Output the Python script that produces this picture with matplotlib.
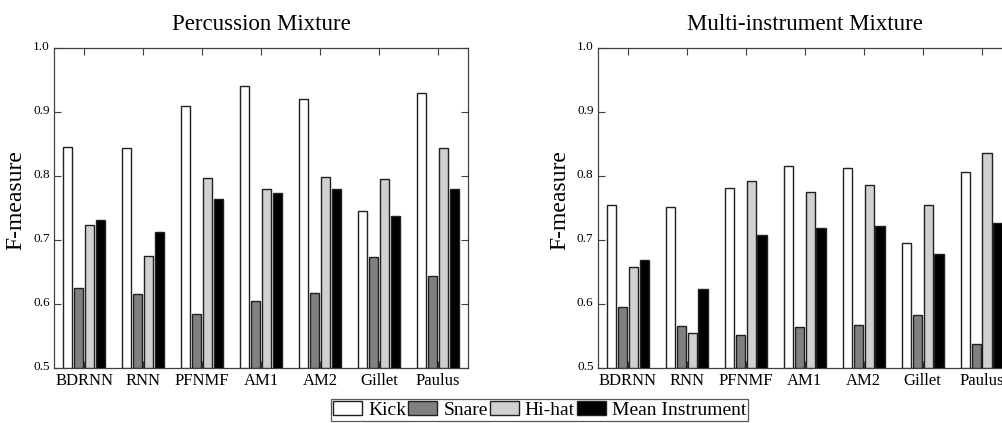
import numpy as np
import matplotlib
matplotlib.use('Agg')
import matplotlib.pyplot as plt
import matplotlib.transforms as mtransforms

methods = ['BDRNN', 'RNN', 'PFNMF', 'AM1', 'AM2', 'Gillet', 'Paulus']
series = ['Kick', 'Snare', 'Hi-hat', 'Mean Instrument']

# Percussion mixture
perc_kick = [0.845, 0.843, 0.910, 0.940, 0.920, 0.745, 0.930]
perc_snare = [0.625, 0.616, 0.585, 0.604, 0.617, 0.673, 0.644]
perc_hihat = [0.724, 0.675, 0.797, 0.779, 0.799, 0.795, 0.843]
perc_mean = [0.732, 0.712, 0.764, 0.774, 0.779, 0.738, 0.779]

# Multi-instrument mixture
multi_kick = [0.755, 0.751, 0.781, 0.816, 0.812, 0.695, 0.807]
multi_snare = [0.595, 0.566, 0.552, 0.564, 0.567, 0.583, 0.538]
multi_hihat = [0.658, 0.555, 0.792, 0.775, 0.786, 0.755, 0.836]
multi_mean = [0.669, 0.624, 0.708, 0.719, 0.722, 0.678, 0.727]

colors = ['white', '#808080', '#d0d0d0', 'black']

plt.rcParams['font.family'] = ['Liberation Serif', 'DejaVu Serif']

fig = plt.figure(figsize=(10.03, 4.23), dpi=100)
ax1 = fig.add_axes([0.0538, 0.130, 0.4128, 0.7565])
ax2 = fig.add_axes([0.596, 0.130, 0.4128, 0.7565])


def draw(ax, data, title):
    x = np.arange(1, len(methods) + 1)
    w = 0.16
    step = 0.185
    bars = []
    for i, vals in enumerate(data):
        b = ax.bar(x + (i - 1.5) * step, np.array(vals) - 0.5, w, bottom=0.5,
                   color=colors[i], edgecolor='#202020', linewidth=1.0,
                   zorder=3, label=series[i])
        bars.append(b)
    ax.set_xlim(0.49, 7.51)
    ax.set_ylim(0.5, 1.0)
    ax.set_xticks(x)
    ax.set_xticklabels(methods, fontsize=12)
    ax.set_yticks([0.5, 0.6, 0.7, 0.8, 0.9, 1.0])
    ax.set_yticklabels(['0.5', '0.6', '0.7', '0.8', '0.9', '1.0'], fontsize=9.5)
    ax.tick_params(direction='in', top=True, right=True, length=5,
                   width=0.8, color='#404040', pad=3)
    ax.tick_params(axis='x', pad=3.5)
    # y tick labels sit a little above their ticks
    off = mtransforms.ScaledTranslation(0, 3 / 100, fig.dpi_scale_trans)
    for lab in ax.get_yticklabels():
        lab.set_transform(lab.get_transform() + off)
    for s in ax.spines.values():
        s.set_color('#404040')
        s.set_linewidth(0.9)
    ax.set_ylabel('F-measure', fontsize=17)
    ax.yaxis.set_label_coords(-0.066, 0.525)
    ax.set_title(title, fontsize=16.5, pad=13)
    return bars


bars = draw(ax1, [perc_kick, perc_snare, perc_hihat, perc_mean], 'Percussion Mixture')
draw(ax2, [multi_kick, multi_snare, multi_hihat, multi_mean], 'Multi-instrument Mixture')

leg = fig.legend(bars, series, loc='upper center', bbox_to_anchor=(0.538, 1 - 399 / 423),
                 ncol=4, fontsize=14, frameon=True, fancybox=False,
                 edgecolor='#303030', handlelength=1.5, handleheight=0.7,
                 handletextpad=0.3, columnspacing=0.1, borderpad=0.1,
                 borderaxespad=0)
leg.get_frame().set_linewidth(0.9)

fig.savefig('out.png', dpi=100)
